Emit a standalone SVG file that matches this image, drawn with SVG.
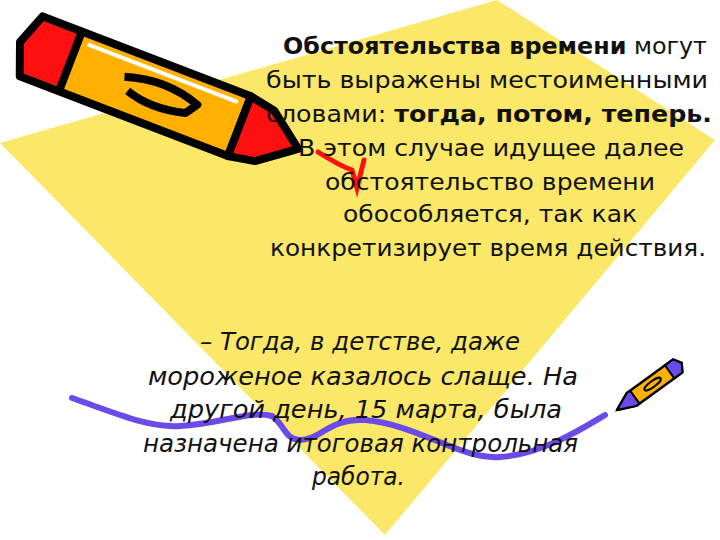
<svg xmlns="http://www.w3.org/2000/svg" width="720" height="540" viewBox="0 0 720 540">
<style>
.t{font-family:"DejaVu Sans",sans-serif;font-size:23px;fill:#111}
.i{font-family:"DejaVu Sans",sans-serif;font-size:24px;font-style:italic;fill:#111}
.b{font-weight:bold}
.ol{stroke:#000;stroke-width:8;stroke-linejoin:round}
</style>
<rect width="720" height="540" fill="#fff"/>
<polygon points="0,143 497,0 715,140 385,535" fill="#FBE868"/>
<path d="M318,152 Q340,166 352,170 L357,188 L364,160" fill="none" stroke="#ff1010" stroke-width="5" stroke-linecap="round"/>
<path d="M72,398 C120,415 150,428 180,426 C220,424 250,410 272,416 C285,425 285,440 300,440 C320,440 330,418 365,420 C420,425 460,460 500,457 C540,455 580,430 605,415" fill="none" stroke="#6A4AE8" stroke-width="6" stroke-linecap="round"/>
<g id="bigPencil" transform="translate(20,42) rotate(21)">
<path d="M12,-32 L235,-32 L235,32 L12,32 L0,0 Z" fill="#FFB000"/>
<path d="M14,-28 L52,-28 L52,28 L14,28 L4,0 Z" fill="#ff1010"/>
<path d="M12,-32 L235,-32 L235,32 L12,32 L0,0 Z" fill="none" class="ol"/>
<line x1="54" y1="-32" x2="54" y2="32" class="ol"/>
<path d="M235,-32 L262,-27 L298,0 L262,27 L235,32 Z" fill="#ff1010" class="ol"/>
<path d="M110,-5 Q150,-18 188,-5 L180,7 Q145,16 118,7" fill="none" class="ol"/>
<line x1="64" y1="-22" x2="225" y2="-22" stroke="#fff" stroke-width="4"/>
</g>
<g id="smallPencil" transform="translate(617,410) rotate(-36)">
<path d="M0,0 L18,-8 L75,-8 L80,0 L75,8 L18,8 Z" fill="#FFB000" stroke="#000" stroke-width="2.5" stroke-linejoin="round"/>
<path d="M0,0 L18,-8 L22,-8 L22,8 L18,8 Z" fill="#6A4AE8" stroke="#000" stroke-width="2"/>
<path d="M65,-8 L75,-8 L80,0 L75,8 L65,8 Z" fill="#6A4AE8" stroke="#000" stroke-width="2"/>
<ellipse cx="44" cy="0" rx="10" ry="3" fill="none" stroke="#000" stroke-width="2"/>
</g>
<g id="text1">
<text class="t" x="283" y="54" textLength="424" lengthAdjust="spacingAndGlyphs"><tspan class="b">Обстоятельства времени</tspan> могут</text>
<text class="t" x="266" y="88" textLength="442" lengthAdjust="spacingAndGlyphs">быть выражены местоименными</text>
<text class="t" x="266" y="122" textLength="446" lengthAdjust="spacingAndGlyphs">словами: <tspan class="b">тогда, потом, теперь.</tspan></text>
<text class="t" x="298" y="156" textLength="386" lengthAdjust="spacingAndGlyphs">В этом случае идущее далее</text>
<text class="t" x="325" y="190" textLength="330" lengthAdjust="spacingAndGlyphs">обстоятельство времени</text>
<text class="t" x="343" y="222" textLength="294" lengthAdjust="spacingAndGlyphs">обособляется, так как</text>
<text class="t" x="270" y="256" textLength="436" lengthAdjust="spacingAndGlyphs">конкретизирует время действия.</text>
</g>
<g id="text2">
<text class="i" x="200" y="350" textLength="320" lengthAdjust="spacingAndGlyphs">– Тогда, в детстве, даже</text>
<text class="i" x="148" y="385" textLength="430" lengthAdjust="spacingAndGlyphs">мороженое казалось слаще. На</text>
<text class="i" x="170" y="418" textLength="392" lengthAdjust="spacingAndGlyphs">другой день, 15 марта, была</text>
<text class="i" x="143" y="452" textLength="435" lengthAdjust="spacingAndGlyphs">назначена итоговая контрольная</text>
<text class="i" x="312" y="485" textLength="93" lengthAdjust="spacingAndGlyphs">работа.</text>
</g>
</svg>
